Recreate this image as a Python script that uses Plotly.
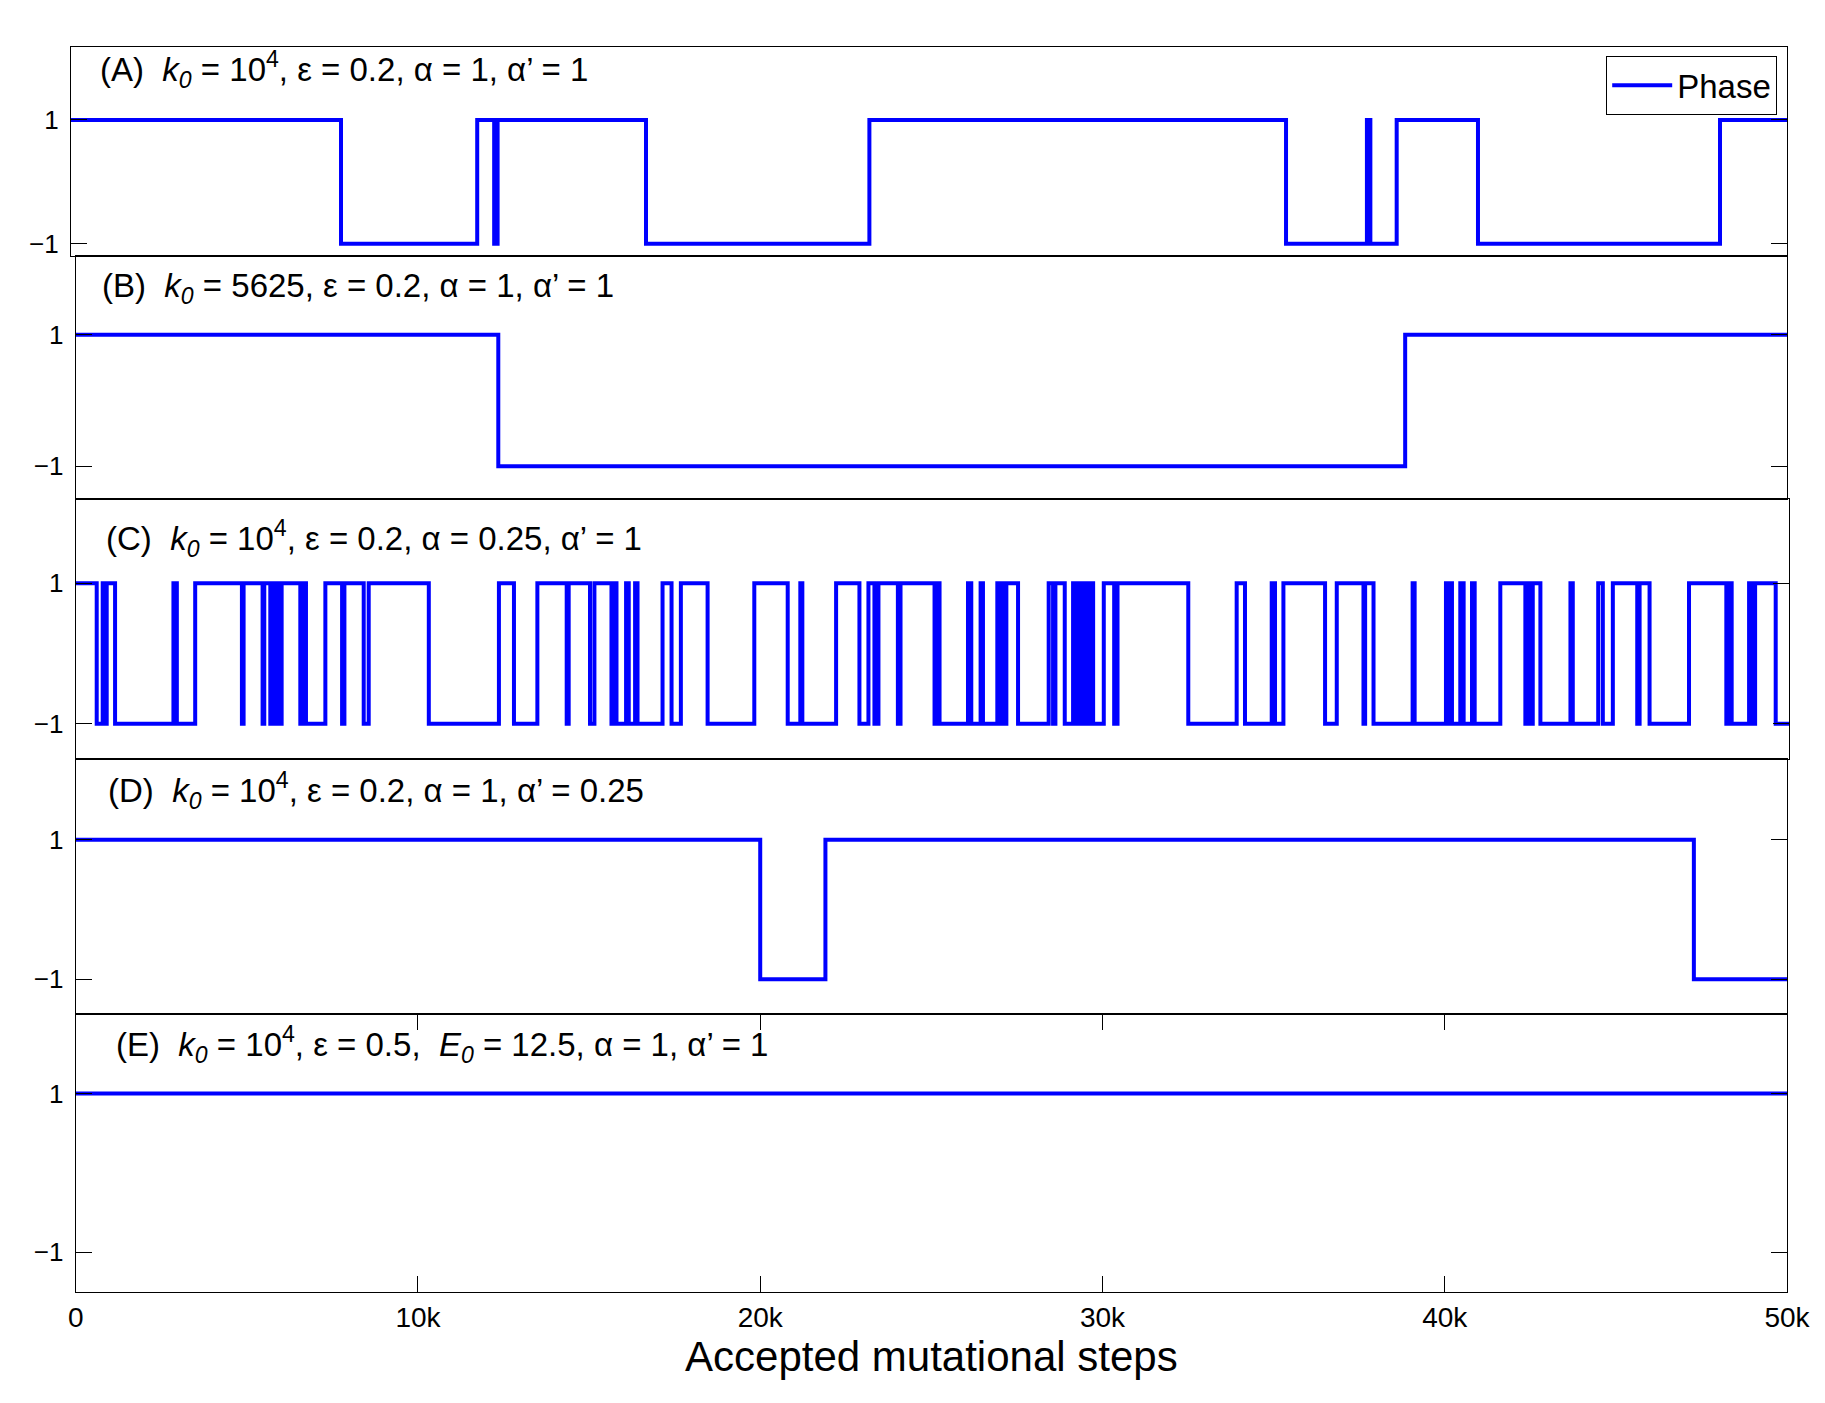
import plotly.graph_objects as go

# ---------------- data ----------------
X_MAX = 50000
x_tick_vals = [0, 10000, 20000, 30000, 40000, 50000]
x_tick_text = ["0", "10k", "20k", "30k", "40k", "50k"]
y_tick_vals = [-1, 1]
y_tick_text = ["\u22121", "1"]

# phase switching points (accepted mutational steps); phase starts at +1 in all panels
switch_A = [7867, 11836, 12330, 12430, 16754, 23263, 35403, 37760, 37860,
            38627, 40996, 48048]
switch_B = [12347, 38844]
switch_C = [613, 788, 817, 905, 1149, 2852, 2952, 3487, 4851, 4900, 5454, 5503,
            5679, 5776, 5825, 5893, 5952, 6010, 6555, 6652, 6720, 7286, 7774, 7842,
            8405, 8551, 10305, 12351,
            12790, 13473, 14329, 14387, 15010, 15138, 15636, 15694, 15782, 16062,
            16140, 16325, 16396, 17126, 17389, 17661, 18441, 19804, 20779, 21147,
            21206, 22191, 22872, 23135, 23310, 23427, 23994, 24071, 25064,
            25130, 25210, 26040, 26136, 26408, 26477, 26896, 26963, 27033, 27092,
            27160, 27501, 28395, 28523, 28591, 28864, 29107, 29175, 29234, 29272,
            29350, 29429, 29497, 29565, 29623, 29692, 30003, 30306, 30404, 32469,
            33881, 34124, 34904, 35000, 35245, 36461, 36802, 37582,
            37630, 37875, 39016, 39075, 39989, 40048, 40097, 40164, 40407, 40505,
            40749, 40827, 41575, 42306, 42380, 42450, 42522, 42745, 43622, 43690,
            44432, 44567, 44859, 45571, 45640, 45931, 47082, 48171, 48250, 48327,
            48835, 48903, 49011, 49612]
switch_D = [20000, 21905, 47279]
switch_E = []
start_phase = [1, 1, 1, 1, 1]

titles = [
    "(A)\u00a0\u00a0<i>k</i><sub><i>0</i></sub> = 10<sup>4</sup>, \u03b5 = 0.2, \u03b1 = 1, \u03b1\u2019 = 1",
    "(B)\u00a0\u00a0<i>k</i><sub><i>0</i></sub> = 5625, \u03b5 = 0.2, \u03b1 = 1, \u03b1\u2019 = 1",
    "(C)\u00a0\u00a0<i>k</i><sub><i>0</i></sub> = 10<sup>4</sup>, \u03b5 = 0.2, \u03b1 = 0.25, \u03b1\u2019 = 1",
    "(D)\u00a0\u00a0<i>k</i><sub><i>0</i></sub> = 10<sup>4</sup>, \u03b5 = 0.2, \u03b1 = 1, \u03b1\u2019 = 0.25",
    "(E)\u00a0\u00a0<i>k</i><sub><i>0</i></sub> = 10<sup>4</sup>, \u03b5 = 0.5,\u00a0\u00a0<i>E</i><sub><i>0</i></sub> = 12.5, \u03b1 = 1, \u03b1\u2019 = 1",
]
x_label = "Accepted mutational steps"
legend_name = "Phase"

# ---------------- layout geometry (pixels) ----------------
W, H = 1825, 1403
panels_px = [  # (left, right, top, bottom)
    (71, 1787, 47, 256),
    (75.7, 1787, 256, 499),
    (75.7, 1789, 499, 759),
    (75.7, 1787, 759, 1014),
    (75.7, 1787, 1014, 1292),
]
y_ranges = [(-1.2, 2.18), (-1.5, 2.2), (-1.5, 2.2), (-1.5, 2.16), (-1.5, 2.0)]
title_pos = [(98, 70), (100, 288), (104, 538), (106, 790), (114, 1044)]

FONT = "Liberation Sans, Arial, Helvetica, sans-serif"
BLUE = "#0000ff"

def step_series(switches, start):
    xs = [0] + list(switches) + [X_MAX]
    ys = []
    v = start
    ys.append(v)
    for _ in switches:
        v = -v
        ys.append(v)
    ys.append(v)
    return xs, ys

fig = go.Figure()
switch_sets = [switch_A, switch_B, switch_C, switch_D, switch_E]

for i, (sw, st) in enumerate(zip(switch_sets, start_phase)):
    xs, ys = step_series(sw, st)
    n = "" if i == 0 else str(i + 1)
    fig.add_trace(go.Scatter(
        x=xs, y=ys, mode="lines", line=dict(color=BLUE, width=4, shape="hv"),
        name=legend_name, showlegend=(i == 0),
        xaxis="x" + n, yaxis="y" + n,
    ))

layout = dict(
    width=W, height=H,
    margin=dict(l=0, r=0, t=0, b=0, autoexpand=False),
    paper_bgcolor="white", plot_bgcolor="white",
    font=dict(family=FONT, color="black", size=26),
    showlegend=True,
    legend=dict(
        x=1777 / W, y=1 - 56 / H, xanchor="right", yanchor="top",
        bgcolor="white", bordercolor="black", borderwidth=1.2,
        font=dict(family=FONT, size=33, color="black"),
        itemwidth=60, tracegroupgap=0,
    ),
)

annotations = []
for i, (l, r, t, b) in enumerate(panels_px):
    n = "" if i == 0 else str(i + 1)
    is_bottom = (i == 4)
    xa = dict(
        domain=[l / W, r / W], range=[0, X_MAX], anchor="y" + n,
        showline=True, linecolor="black", linewidth=1.2, mirror=True,
        showgrid=False, zeroline=False,
        showticklabels=False, ticks="",
    )
    if is_bottom:
        xa.update(
            mirror="ticks", ticks="inside", ticklen=16, tickcolor="black", tickwidth=1,
            tickvals=x_tick_vals, ticktext=x_tick_text, showticklabels=True,
            tickfont=dict(family=FONT, size=28, color="black"),
            ticklabelstandoff=0,
            title=dict(text=x_label, font=dict(family=FONT, size=42, color="black"),
                       standoff=0),
        )
    ya = dict(
        domain=[1 - b / H, 1 - t / H], range=list(y_ranges[i]), anchor="x" + n,
        showline=True, linecolor="black", linewidth=1.2, mirror="ticks",
        showgrid=False, zeroline=False,
        ticks="inside", ticklen=16, tickcolor="black", tickwidth=1,
        tickvals=y_tick_vals, ticktext=y_tick_text,
        tickfont=dict(family=FONT, size=26, color="black"),
        ticklabelstandoff=6,
    )
    layout["xaxis" + n] = xa
    layout["yaxis" + n] = ya
    tx, ty = title_pos[i]
    annotations.append(dict(
        text=titles[i], xref="paper", yref="paper",
        x=tx / W, y=1 - ty / H, xanchor="left", yanchor="middle",
        showarrow=False, font=dict(family=FONT, size=33, color="black"),
    ))

layout["annotations"] = annotations
fig.update_layout(**layout)
fig.write_html("out.html")
